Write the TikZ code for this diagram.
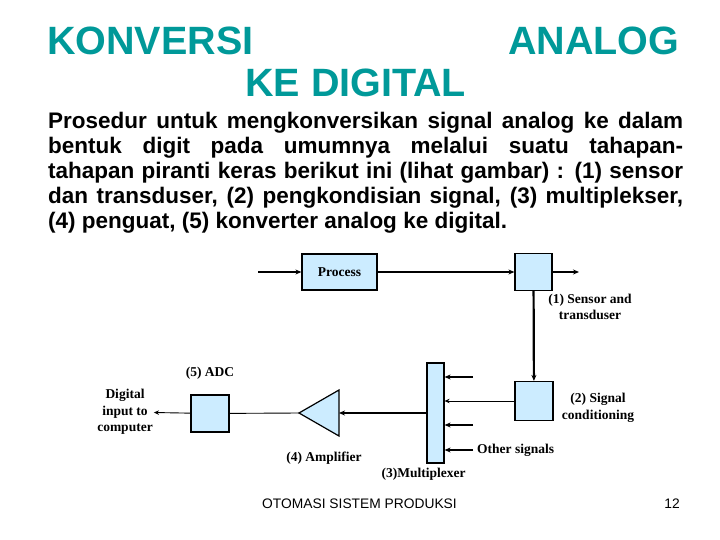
\documentclass[tikz,border=0pt]{standalone}
\usepackage{fontspec}
\setmainfont{Liberation Serif}
\newfontfamily\arialfont{Liberation Sans}
\usetikzlibrary{positioning,arrows.meta}
\definecolor{slideteal}{RGB}{0,153,153}
\definecolor{boxblue}{RGB}{204,236,255}
\tikzset{
  blk/.style  ={rectangle, draw=black, line width=1.2pt, fill=boxblue, inner sep=0pt},
  lab/.style  ={align=center, inner sep=1pt,
                font=\bfseries\fontsize{13.5}{16.5}\selectfont},
  ttl/.style  ={anchor=base west, inner sep=0pt, text=slideteal,
                font=\arialfont\bfseries\fontsize{39.5}{40}\selectfont},
  arr/.style  ={-{Stealth[length=6pt,width=5pt]}, line width=2.2pt},
  tarr/.style ={-{Stealth[length=5pt,width=4.5pt]}, line width=0.9pt},
}

\begin{document}
\begin{tikzpicture}[x=1pt, y=-1pt]
  \useasboundingbox (0,0) rectangle (720,540);

  % title and text
  \node[ttl] (t1) at (47,55) {KONVERSI};
  \node[ttl] (t2) at (508,55) {ANALOG};
  \node[ttl] (t3) at (245,97) {KE DIGITAL};
  \node[anchor=north west, inner sep=0pt, text width=635pt, align=justify,
        font=\arialfont\bfseries\fontsize{22.5}{25}\selectfont] (body) at (48,111.5)
    {\tolerance=9999 Prosedur untuk mengkonversikan signal analog ke dalam\linebreak
     bentuk digit pada umumnya melalui suatu tahapan-\linebreak
     tahapan piranti keras berikut ini (lihat gambar) : (1) sensor\linebreak
     dan transduser, (2) pengkondisian signal, (3) multiplekser,\linebreak
     (4) penguat, (5) konverter analog ke digital.};

  % blocks
  \node[blk, minimum width=75pt, minimum height=36pt,
        font=\bfseries\fontsize{13.5}{15}\selectfont] (proc) at (339.5,272) {Process};
  \node[blk, minimum size=37pt] (sens) at (533.5,272) {};
  \node[blk, minimum width=38pt, minimum height=39pt] (cond) at (534,401) {};
  \node[blk, minimum width=17pt, minimum height=100pt] (mux) at (435.5,413) {};
  \node[blk, minimum width=38pt, minimum height=37pt] (adc) at (210,413.5) {};
  \coordinate (amptip) at (299,413);
  \coordinate (ampbase) at (339,413);
  \filldraw[draw=black, fill=boxblue, line width=1.2pt]
    (ampbase) ++(0,-23) -- ++(0,46) -- (amptip) -- cycle;

  % labels
  \node[lab] (senslab) at (590,307) {(1) Sensor and\\transduser};
  \node[lab] (condlab) at (598,408) {(2) Signal\\conditioning};
  \node[lab, anchor=west] (other) at (476,450) {Other signals};
  \node[lab, below=3pt of mux, xshift=-12pt] (muxlab) {(3)Multiplexer};
  \node[lab] (amplab) at (324,458) {(4) Amplifier};
  \node[lab, above=14pt of adc] (adclab) {(5) ADC};
  \node[lab] (dig) at (125,412) {Digital\\input to\\computer};

  % connectors
  \coordinate (pin) at (258,272);
  \coordinate (sout) at (579,272);
  \draw[arr] (pin) -- (proc);
  \draw[arr] (proc) -- (sens);
  \draw[arr] (sens) -- (sout);
  \draw[arr] (sens) -- (cond);
  \draw[tarr] (cond) -- (cond -| mux.east);
  \foreach \yy/\nm in {377/a,425/b,450/c}{
    \coordinate (in\nm) at (473,\yy);
    \draw[arr] (in\nm) -- (in\nm -| mux.east);}
  \draw[arr] (mux.west |- ampbase) -- (ampbase);
  \draw[line width=0.9pt] (amptip) -- (adc);
  \draw[tarr] (adc) -- (dig);

  % footer
  \node[anchor=base, inner sep=0pt, font=\arialfont\fontsize{13.8}{16}\selectfont] (foot)
    at (359.5,508) {OTOMASI SISTEM PRODUKSI};
  \node[anchor=base east, inner sep=0pt, font=\arialfont\fontsize{13.8}{16}\selectfont] (pg)
    at (680,508) {12};
\end{tikzpicture}
\end{document}
